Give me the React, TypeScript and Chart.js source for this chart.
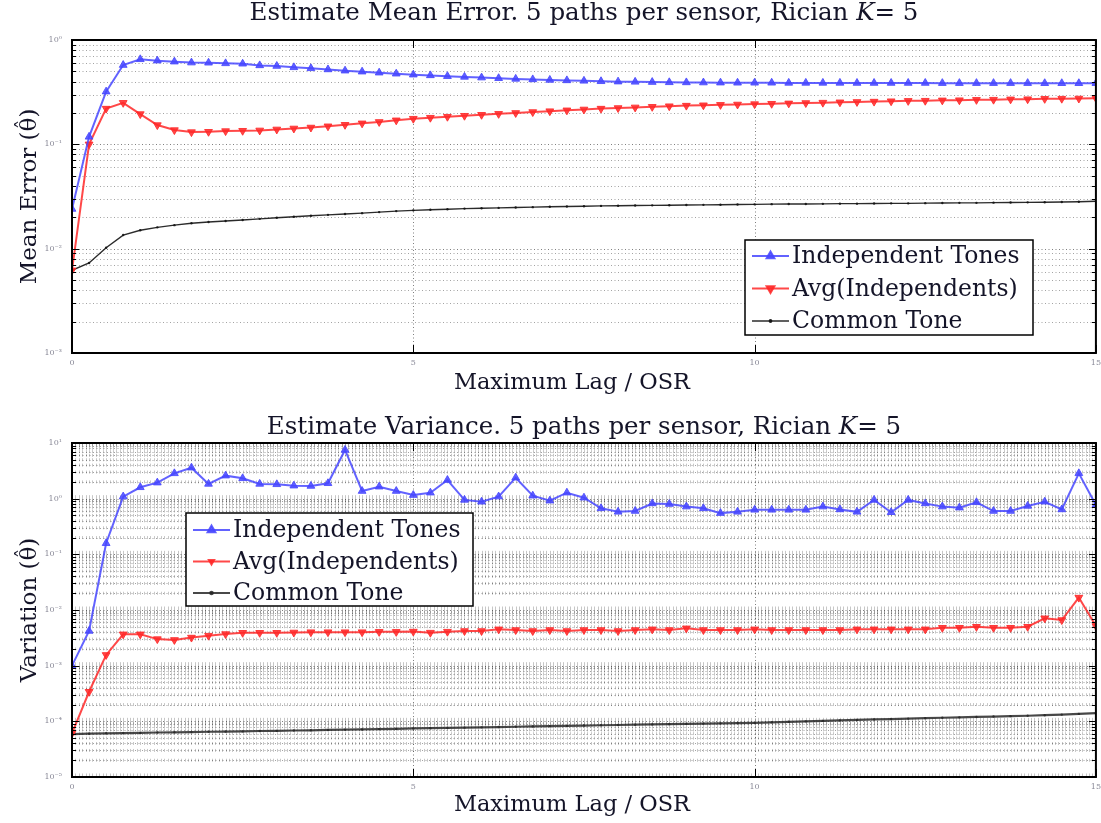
import React, { useEffect, useRef } from 'react';
import { Chart, registerables } from 'chart.js';
import { drawPoint } from 'chart.js/helpers';

Chart.register(...registerables);

const FONT = "'DejaVu Serif', serif";

// ---------- data ----------
const xLags = [0, 0.25, 0.5, 0.75, 1, 1.25, 1.5, 1.75, 2, 2.25, 2.5, 2.75, 3, 3.25, 3.5, 3.75, 4, 4.25, 4.5, 4.75, 5, 5.25, 5.5, 5.75, 6, 6.25, 6.5, 6.75, 7, 7.25, 7.5, 7.75, 8, 8.25, 8.5, 8.75, 9, 9.25, 9.5, 9.75, 10, 10.25, 10.5, 10.75, 11, 11.25, 11.5, 11.75, 12, 12.25, 12.5, 12.75, 13, 13.25, 13.5, 13.75, 14, 14.25, 14.5, 14.75, 15];

const seriesNames = ['Independent Tones', 'Avg(Independents)', 'Common Tone'];

const meanIndependent = [0.024, 0.118, 0.32, 0.575, 0.653, 0.634, 0.62, 0.607, 0.605, 0.597, 0.592, 0.571, 0.563, 0.547, 0.535, 0.522, 0.508, 0.497, 0.486, 0.475, 0.465,
  0.458, 0.45, 0.443, 0.436, 0.43, 0.424, 0.419, 0.414, 0.41, 0.406, 0.402, 0.399, 0.397, 0.395, 0.393, 0.392, 0.391, 0.39, 0.389, 0.389,
  0.389, 0.388, 0.388, 0.388, 0.388, 0.387, 0.387, 0.387, 0.387, 0.387, 0.386, 0.386, 0.386, 0.386, 0.386, 0.386, 0.385, 0.385, 0.385, 0.385];

const meanAvg = [0.0062, 0.1, 0.22, 0.25, 0.195, 0.153, 0.137, 0.131, 0.132, 0.134, 0.135, 0.136, 0.139, 0.142, 0.145, 0.149, 0.154, 0.159, 0.164, 0.17, 0.176,
  0.18, 0.184, 0.188, 0.192, 0.196, 0.2, 0.204, 0.208, 0.212, 0.216, 0.22, 0.223, 0.226, 0.229, 0.232, 0.235, 0.237, 0.239, 0.241, 0.243,
  0.245, 0.247, 0.249, 0.251, 0.253, 0.255, 0.257, 0.259, 0.261, 0.262, 0.264, 0.265, 0.267, 0.268, 0.27, 0.271, 0.273, 0.274, 0.275, 0.277];

const meanCommon = [0.0062, 0.0073, 0.0102, 0.0135, 0.015, 0.016, 0.0168, 0.0175, 0.018, 0.0184, 0.0188, 0.0193, 0.0198, 0.0202, 0.0207, 0.0211, 0.0215, 0.0219, 0.0224, 0.0229, 0.0233,
  0.0236, 0.0239, 0.0242, 0.0244, 0.0246, 0.0248, 0.025, 0.0252, 0.0254, 0.0255, 0.0257, 0.0258, 0.0259, 0.026, 0.0261, 0.0262, 0.0263, 0.0264, 0.0265, 0.0266,
  0.0267, 0.0268, 0.0268, 0.0269, 0.027, 0.027, 0.0271, 0.0272, 0.0272, 0.0273, 0.0274, 0.0275, 0.0275, 0.0276, 0.0277, 0.0278, 0.0279, 0.028, 0.0282, 0.0285];

const varIndependent = [0.001, 0.0042, 0.158, 1.09, 1.6, 1.94, 2.85, 3.6, 1.84, 2.59, 2.32, 1.84, 1.81, 1.71, 1.69, 1.89, 7.5, 1.37, 1.64, 1.37, 1.16,
  1.28, 2.16, 0.95, 0.88, 1.09, 2.38, 1.13, 0.92, 1.28, 1.04, 0.67, 0.58, 0.6, 0.82, 0.8, 0.72, 0.67, 0.55, 0.58, 0.63,
  0.63, 0.63, 0.63, 0.72, 0.64, 0.58, 0.95, 0.57, 0.95, 0.82, 0.72, 0.69, 0.86, 0.6, 0.6, 0.74, 0.88, 0.64, 2.85, 0.77];

const varAvg = [6.1e-5, 3.4e-4, 1.56e-3, 3.66e-3, 3.66e-3, 3.0e-3, 2.9e-3, 3.2e-3, 3.46e-3, 3.7e-3, 3.9e-3, 3.9e-3, 3.9e-3, 3.95e-3, 4.0e-3, 4.0e-3, 4.0e-3, 4.0e-3, 4.05e-3, 4.05e-3, 4.1e-3,
  3.92e-3, 4.08e-3, 4.2e-3, 4.2e-3, 4.5e-3, 4.37e-3, 4.2e-3, 4.37e-3, 4.2e-3, 4.37e-3, 4.37e-3, 4.2e-3, 4.37e-3, 4.5e-3, 4.37e-3, 4.69e-3, 4.37e-3, 4.37e-3, 4.37e-3, 4.5e-3,
  4.37e-3, 4.37e-3, 4.37e-3, 4.37e-3, 4.37e-3, 4.5e-3, 4.5e-3, 4.5e-3, 4.5e-3, 4.5e-3, 4.8e-3, 4.8e-3, 5.0e-3, 4.8e-3, 4.8e-3, 5.0e-3, 7.1e-3, 6.6e-3, 0.0167, 5.16e-3];

const varCommon = [5.9e-5, 6.0e-5, 6.1e-5, 6.15e-5, 6.2e-5, 6.3e-5, 6.35e-5, 6.4e-5, 6.5e-5, 6.55e-5, 6.6e-5, 6.7e-5, 6.75e-5, 6.85e-5, 6.9e-5, 7.0e-5, 7.1e-5, 7.15e-5, 7.25e-5, 7.35e-5, 7.45e-5,
  7.55e-5, 7.6e-5, 7.7e-5, 7.8e-5, 7.9e-5, 8.0e-5, 8.1e-5, 8.2e-5, 8.3e-5, 8.4e-5, 8.5e-5, 8.6e-5, 8.7e-5, 8.8e-5, 8.9e-5, 9.0e-5, 9.1e-5, 9.2e-5, 9.3e-5, 9.4e-5,
  9.6e-5, 9.8e-5, 1.0e-4, 1.02e-4, 1.04e-4, 1.06e-4, 1.08e-4, 1.1e-4, 1.12e-4, 1.14e-4, 1.16e-4, 1.18e-4, 1.2e-4, 1.22e-4, 1.24e-4, 1.26e-4, 1.29e-4, 1.32e-4, 1.36e-4, 1.4e-4];

const xTickValues = [0, 5, 10, 15];
const xTickLabels = ['0', '5', '10', '15'];
const yTickLabelsMean = ['10⁻³', '10⁻²', '10⁻¹', '10⁰'];
const yTickLabelsVar = ['10⁻⁵', '10⁻⁴', '10⁻³', '10⁻²', '10⁻¹', '10⁰', '10¹'];

const titleMean = ['Estimate Mean Error. 5 paths per sensor, Rician ', 'K', '= 5'];
const titleVar = ['Estimate Variance. 5 paths per sensor, Rician ', 'K', '= 5'];
const xAxisTitle = 'Maximum Lag / OSR';
const yTitleMean = 'Mean Error (';
const yTitleVar = 'Variation (';

// ---------- helpers ----------
function logTicks(minExp: number, maxExp: number) {
  const out: { value: number; major: boolean }[] = [];
  for (let e = minExp; e < maxExp; e++) {
    for (let m = 1; m < 10; m++) out.push({ value: m * Math.pow(10, e), major: m === 1 });
  }
  out.push({ value: Math.pow(10, maxExp), major: true });
  return out;
}

const toPoints = (ys: number[]) => ys.map((y, i) => ({ x: xLags[i], y }));

const TEXT_COLOR = '#141428';

const paperPlugin = {
  id: 'paper',
  beforeDatasetsDraw(chart: any, _a: any, opts: any) {
    const { ctx, chartArea: a, scales } = chart;
    const x = scales.x, y = scales.y;
    ctx.save();
    ctx.beginPath();
    ctx.rect(a.left, a.top, a.right - a.left, a.bottom - a.top);
    ctx.clip();
    ctx.lineWidth = 1;
    ctx.setLineDash([1, 2.5]);
    for (const t of y.ticks) {
      const py = Math.round(y.getPixelForValue(t.value)) + 0.5;
      ctx.strokeStyle = t.major ? opts.majorColor : opts.minorColor;
      ctx.beginPath();
      ctx.moveTo(a.left, py);
      ctx.lineTo(a.right, py);
      ctx.stroke();
    }
    ctx.strokeStyle = opts.majorColor;
    for (const t of x.ticks) {
      const px = Math.round(x.getPixelForValue(t.value)) + 0.5;
      ctx.beginPath();
      ctx.moveTo(px, a.top);
      ctx.lineTo(px, a.bottom);
      ctx.stroke();
    }
    ctx.setLineDash([]);
    if (opts.hatchStep) {
      ctx.strokeStyle = opts.hatchColor;
      ctx.beginPath();
      for (const t of y.ticks) {
        const py = y.getPixelForValue(t.value);
        const h = t.major ? opts.hatchMajor : opts.hatchMinor;
        for (let v = x.min; v <= x.max + 1e-9; v += opts.hatchStep) {
          const px = Math.round(x.getPixelForValue(v)) + 0.5;
          ctx.moveTo(px, py - h / 2);
          ctx.lineTo(px, py + h / 2);
        }
      }
      ctx.stroke();
    }
    ctx.restore();
  },
  afterDraw(chart: any, _a: any, opts: any) {
    const { ctx, chartArea: a, scales } = chart;
    const x = scales.x, y = scales.y;
    ctx.save();
    ctx.fillStyle = TEXT_COLOR;
    ctx.textBaseline = 'middle';
    ctx.textAlign = 'left';

    // title (centred over the plot, italic K)
    const parts: string[] = opts.title;
    const fonts = [`24.5px ${FONT}`, `italic 24.5px ${FONT}`, `24.5px ${FONT}`];
    let total = 0;
    const widths = parts.map((s, i) => { ctx.font = fonts[i]; const w = ctx.measureText(s).width; total += w; return w; });
    let tx = (a.left + a.right) / 2 - total / 2;
    parts.forEach((s, i) => { ctx.font = fonts[i]; ctx.fillText(s, tx, opts.titleY); tx += widths[i]; });

    // x axis title
    ctx.font = `22.5px ${FONT}`;
    ctx.textAlign = 'center';
    ctx.fillText(xAxisTitle, (a.left + a.right) / 2 + opts.xTitleShift, a.bottom + opts.xTitleDy);

    // y axis title with hatted theta
    ctx.save();
    ctx.translate(opts.yTitleX, (a.top + a.bottom) / 2);
    ctx.rotate(-Math.PI / 2);
    ctx.font = `23px ${FONT}`;
    ctx.textAlign = 'left';
    const pre = opts.yTitle, th = '\u03B8', post = ')';
    const wPre = ctx.measureText(pre).width, wTh = ctx.measureText(th).width, wPost = ctx.measureText(post).width;
    const sx = -(wPre + wTh + wPost) / 2;
    ctx.fillText(pre, sx, 0);
    ctx.fillText(th, sx + wPre, 0);
    ctx.fillText(post, sx + wPre + wTh, 0);
    ctx.textAlign = 'center';
    ctx.font = `20px ${FONT}`;
    ctx.fillText('\u02C6', sx + wPre + wTh / 2, -4);
    ctx.restore();

    // inner ticks
    ctx.strokeStyle = '#000';
    ctx.lineWidth = 1;
    ctx.beginPath();
    for (const t of y.ticks) {
      const py = Math.round(y.getPixelForValue(t.value)) + 0.5;
      const len = t.major ? 7 : 4;
      ctx.moveTo(a.left, py); ctx.lineTo(a.left + len, py);
      ctx.moveTo(a.right, py); ctx.lineTo(a.right - len, py);
    }
    for (const t of x.ticks) {
      const px = Math.round(x.getPixelForValue(t.value)) + 0.5;
      ctx.moveTo(px, a.bottom); ctx.lineTo(px, a.bottom - 8);
      ctx.moveTo(px, a.top); ctx.lineTo(px, a.top + 8);
    }
    ctx.stroke();
    // frame
    ctx.lineWidth = 2;
    ctx.strokeRect(a.left, a.top, a.right - a.left, a.bottom - a.top);

    // legend
    const L = opts.legend;
    const bx = a.left + L.x, by = a.top + L.y;
    ctx.fillStyle = '#fff';
    ctx.fillRect(bx, by, L.w, L.h);
    ctx.lineWidth = 1.5;
    ctx.strokeStyle = '#000';
    ctx.strokeRect(bx, by, L.w, L.h);
    ctx.font = `23.5px ${FONT}`;
    ctx.textAlign = 'left';
    ctx.textBaseline = 'middle';
    chart.data.datasets.forEach((ds: any, i: number) => {
      const cy = by + L.rowTop + i * L.rowGap;
      const x0 = bx + 7, x1 = bx + 44;
      ctx.strokeStyle = ds.borderColor;
      ctx.lineWidth = ds.borderWidth;
      ctx.beginPath();
      ctx.moveTo(x0, cy);
      ctx.lineTo(x1, cy);
      ctx.stroke();
      ctx.fillStyle = ds.backgroundColor;
      drawPoint(ctx, { pointStyle: ds.pointStyle, rotation: ds.rotation || 0, radius: ds.legendRadius, borderWidth: 1 }, (x0 + x1) / 2, cy);
      ctx.fillStyle = TEXT_COLOR;
      ctx.fillText(ds.label, x1 + 3, cy + 1);
    });
    ctx.restore();
  },
};

function buildConfig(p: any) {
  const minExp = p.minExp, maxExp = p.maxExp;
  return {
    type: 'line',
    data: {
      datasets: [
        {
          label: seriesNames[0], data: toPoints(p.series[0]),
          borderColor: 'rgba(70,70,255,0.85)', backgroundColor: 'rgba(70,70,255,0.85)',
          borderWidth: 2, pointStyle: 'triangle', pointRadius: 4.5, pointBorderWidth: 1, legendRadius: 4.5,
        },
        {
          label: seriesNames[1], data: toPoints(p.series[1]),
          borderColor: 'rgba(255,40,40,0.85)', backgroundColor: 'rgba(255,40,40,0.85)',
          borderWidth: 2, pointStyle: 'triangle', rotation: 180, pointRotation: 180, pointRadius: 4.5, pointBorderWidth: 1, legendRadius: p.redLegendRadius,
        },
        {
          label: seriesNames[2], data: toPoints(p.series[2]),
          borderColor: p.blackColor, backgroundColor: p.blackColor,
          borderWidth: p.blackWidth, pointStyle: 'circle', pointRadius: 1.2, pointBorderWidth: 0, legendRadius: 1.2,
        },
      ],
    },
    options: {
      responsive: false,
      animation: false,
      events: [],
      layout: { padding: { left: 0, right: 0, top: p.topPad, bottom: 0 } },
      plugins: {
        legend: { display: false },
        tooltip: { enabled: false },
        title: { display: false },
        paper: {
          title: p.title, titleY: p.titleY,
          yTitle: p.yTitle, yTitleX: 30,
          xTitleShift: -12, xTitleDy: p.xTitleDy,
          majorColor: 'rgba(0,0,0,0.5)', minorColor: 'rgba(0,0,0,0.36)',
          hatchStep: p.hatchStep, hatchColor: 'rgba(0,0,0,0.22)', hatchMajor: 7, hatchMinor: 3,
          legend: p.legend,
        },
      },
      scales: {
        x: {
          type: 'linear', min: 0, max: 15,
          afterBuildTicks: (s: any) => { s.ticks = xTickValues.map((v) => ({ value: v })); },
          afterFit: (s: any) => { s.height = p.xHeight; },
          grid: { display: false, drawTicks: false },
          border: { display: false },
          ticks: {
            autoSkip: false, maxRotation: 0, padding: 5, color: '#8a8a98',
            font: { family: FONT, size: 8 },
            callback: (_v: any, i: number) => xTickLabels[i],
          },
          title: { display: false },
        },
        y: {
          type: 'logarithmic', min: Math.pow(10, minExp), max: Math.pow(10, maxExp),
          afterBuildTicks: (s: any) => { s.ticks = logTicks(minExp, maxExp); },
          afterFit: (s: any) => { s.width = 72; },
          grid: { display: false, drawTicks: false },
          border: { display: false },
          ticks: {
            autoSkip: false, padding: 10, color: '#8a8a98',
            font: { family: FONT, size: 8 },
            callback: (v: number, i: number, ticks: any[]) => {
              if (!ticks[i] || !ticks[i].major) return '';
              return p.yLabels[Math.round(Math.log10(v)) - minExp];
            },
          },
          title: { display: false },
        },
      },
    },
    plugins: [paperPlugin],
  };
}

function ChartPanel({ params, height }: { params: any; height: number }) {
  const ref = useRef<HTMLCanvasElement | null>(null);
  useEffect(() => {
    if (!ref.current) return;
    const chart = new Chart(ref.current, buildConfig(params) as any);
    return () => chart.destroy();
  }, [params]);
  return <canvas ref={ref} width={1106} height={height} style={{ display: 'block' }} />;
}

const topParams = {
  title: titleMean, titleY: 14,
  yTitle: yTitleMean,
  minExp: -3, maxExp: 0, yLabels: yTickLabelsMean,
  series: [meanIndependent, meanAvg, meanCommon],
  topPad: 40,
  xHeight: 58, xTitleDy: 30,
  blackColor: 'rgba(20,20,20,0.9)', blackWidth: 1.4,
  hatchStep: 0,
  redLegendRadius: 4.5,
  legend: { x: 673, y: 200, w: 288, h: 95, rowTop: 16, rowGap: 32.5 },
};

const bottomParams = {
  title: titleVar, titleY: 17,
  yTitle: yTitleVar,
  minExp: -5, maxExp: 1, yLabels: yTickLabelsVar,
  series: [varIndependent, varAvg, varCommon],
  topPad: 32,
  xHeight: 46, xTitleDy: 28,
  blackColor: 'rgba(40,40,40,0.85)', blackWidth: 2.2,
  hatchStep: 0.05,
  redLegendRadius: 3,
  legend: { x: 114, y: 70, w: 287, h: 93, rowTop: 17, rowGap: 31.5 },
};

export default function App() {
  return (
    <div style={{ position: 'absolute', left: 0, top: 0, width: 1101, height: 823, overflow: 'hidden', background: '#fff' }}>
      <div style={{ position: 'absolute', left: 0, top: 0 }}>
        <ChartPanel params={topParams} height={411} />
      </div>
      <div style={{ position: 'absolute', left: 0, top: 411 }}>
        <ChartPanel params={bottomParams} height={412} />
      </div>
    </div>
  );
}
